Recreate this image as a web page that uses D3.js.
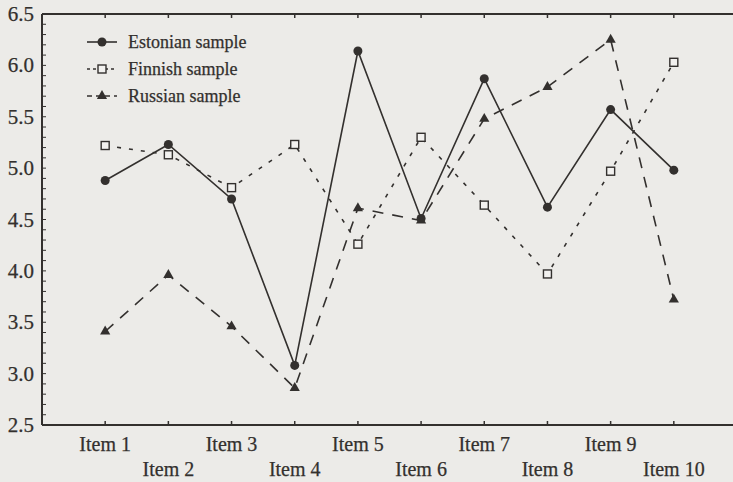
<!DOCTYPE html>
<html>
<head>
<meta charset="utf-8">
<script src="https://cdn.jsdelivr.net/npm/d3@7"></script>
<style>
  body { margin: 0; background: #ecebe8; }
  svg { display: block; }
  text { font-family: "Liberation Serif", "DejaVu Serif", serif; fill: #33302e; stroke: #33302e; stroke-width: 0.25; }
</style>
</head>
<body>
<svg id="chart" width="733" height="482"></svg>
<script>
// values
var items = ["Item 1", "Item 2", "Item 3", "Item 4", "Item 5",
             "Item 6", "Item 7", "Item 8", "Item 9", "Item 10"];
var estonian = [4.88, 5.23, 4.70, 3.08, 6.14, 4.51, 5.87, 4.62, 5.57, 4.98];
var finnish  = [5.22, 5.13, 4.81, 5.23, 4.26, 5.30, 4.64, 3.97, 4.97, 6.03];
var russian  = [3.41, 3.96, 3.46, 2.86, 4.61, 4.49, 5.48, 5.79, 6.25, 3.72];
var yTicks = [2.5, 3.0, 3.5, 4.0, 4.5, 5.0, 5.5, 6.0, 6.5];
var seriesNames = ["Estonian sample", "Finnish sample", "Russian sample"];

var ink = "#33302e";
var svg = d3.select("#chart");

var x = d3.scaleLinear().domain([0, 11]).range([42, 737]);
var y = d3.scaleLinear().domain([2.5, 6.5]).range([425, 14]);

// frame lines
var g = svg.append("g");
g.append("line").attr("x1", x(0)).attr("x2", x(11)).attr("y1", y(6.5)).attr("y2", y(6.5))
  .attr("stroke", ink).attr("stroke-width", 2);
g.append("line").attr("x1", x(0)).attr("x2", x(11)).attr("y1", y(2.5)).attr("y2", y(2.5))
  .attr("stroke", ink).attr("stroke-width", 2);
g.append("line").attr("x1", x(0)).attr("x2", x(0)).attr("y1", y(2.5)).attr("y2", y(6.5))
  .attr("stroke", ink).attr("stroke-width", 2);

// minor ticks on the left axis (every 0.1)
var minor = d3.range(25, 66).map(function(d) { return d / 10; });
g.selectAll(".minor").data(minor).enter().append("line")
  .attr("x1", x(0)).attr("x2", x(0) + 4)
  .attr("y1", function(d) { return y(d); }).attr("y2", function(d) { return y(d); })
  .attr("stroke", ink).attr("stroke-width", 1);

// y labels
g.selectAll(".ylab").data(yTicks).enter().append("text")
  .attr("x", 34).attr("y", function(d) { return y(d) + 7; })
  .attr("text-anchor", "end").attr("font-size", 21)
  .text(function(d) { return d.toFixed(1); });

// item ticks on top and bottom
var idx = d3.range(1, 11);
g.selectAll(".tb").data(idx).enter().append("line")
  .attr("x1", function(d) { return x(d); }).attr("x2", function(d) { return x(d); })
  .attr("y1", y(2.5)).attr("y2", y(2.5) - 4)
  .attr("stroke", ink).attr("stroke-width", 1.5);
g.selectAll(".tt").data(idx).enter().append("line")
  .attr("x1", function(d) { return x(d); }).attr("x2", function(d) { return x(d); })
  .attr("y1", y(6.5)).attr("y2", y(6.5) + 4)
  .attr("stroke", ink).attr("stroke-width", 1.5);

// item labels in two staggered rows
g.selectAll(".xlab").data(items).enter().append("text")
  .attr("x", function(d, i) { return x(i + 1); })
  .attr("y", function(d, i) { return i % 2 === 0 ? 451 : 476; })
  .attr("text-anchor", "middle").attr("font-size", 20)
  .text(function(d) { return d; });

var line = d3.line()
  .x(function(d, i) { return x(i + 1); })
  .y(function(d) { return y(d); });

var styles = [
  { data: estonian, dash: null, width: 1.6 },
  { data: finnish, dash: "4,8", width: 1.6 },
  { data: russian, dash: "11,9", width: 1.6 }
];

styles.forEach(function(s) {
  svg.append("path").datum(s.data)
    .attr("d", line)
    .attr("fill", "none").attr("stroke", ink)
    .attr("stroke-width", s.width)
    .attr("stroke-dasharray", s.dash);
});

function drawMarker(sel, k) {
  if (k === 0) {
    sel.append("circle").attr("r", 4.5).attr("fill", ink);
  } else if (k === 1) {
    sel.append("rect").attr("x", -4).attr("y", -4).attr("width", 8).attr("height", 8)
      .attr("fill", "#f2f1ef").attr("stroke", ink).attr("stroke-width", 1.4);
  } else {
    sel.append("path").attr("d", d3.symbol().type(d3.symbolTriangle).size(45))
      .attr("fill", ink);
  }
}

styles.forEach(function(s, k) {
  var m = svg.append("g").selectAll("g").data(s.data).enter().append("g")
    .attr("transform", function(d, i) { return "translate(" + x(i + 1) + "," + y(d) + ")"; });
  m.each(function() { drawMarker(d3.select(this), k); });
});

// legend
var leg = svg.append("g").attr("transform", "translate(87,42)");
seriesNames.forEach(function(name, k) {
  var row = leg.append("g").attr("transform", "translate(0," + (k * 27) + ")");
  row.append("line").attr("x1", 0).attr("x2", 30).attr("y1", 0).attr("y2", 0)
    .attr("stroke", ink).attr("stroke-width", 1.6)
    .attr("stroke-dasharray", k === 0 ? null : (k === 1 ? "3,3" : "5,4"));
  var mk = row.append("g").attr("transform", "translate(15,0)");
  drawMarker(mk, k);
  row.append("text").attr("x", 41).attr("y", 6).attr("font-size", 18).text(name);
});
</script>
</body>
</html>
